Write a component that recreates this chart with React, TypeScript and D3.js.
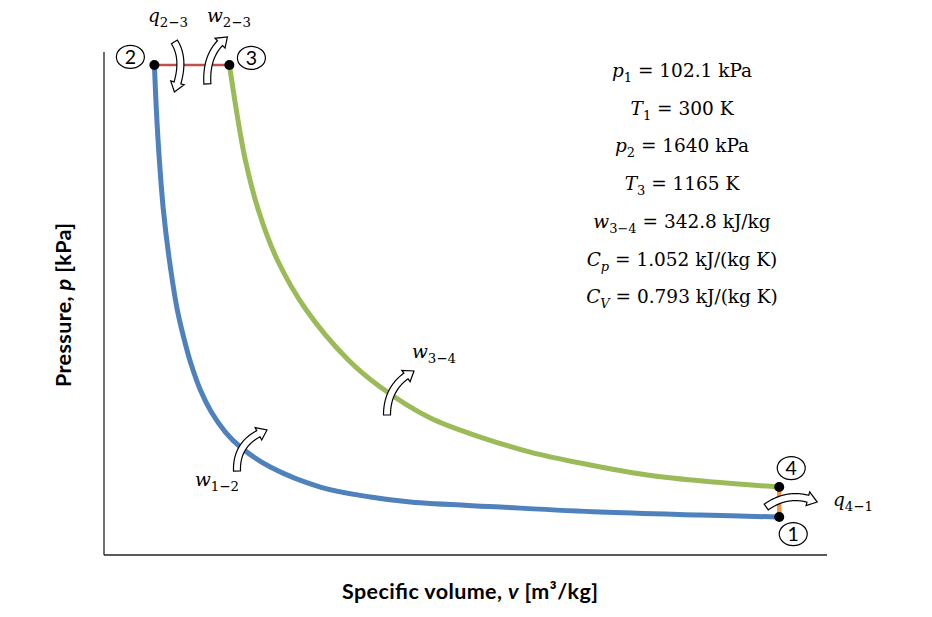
import React from "react";
import * as d3 from "d3";

// ---- Data ----
// Process 1-2 (isentropic compression), v [m3/kg], p [kPa]
const compV = [0.761, 0.6766, 0.5698, 0.4631, 0.367, 0.3244, 0.271, 0.2176, 0.1856, 0.1696, 0.1546, 0.1429, 0.1333, 0.1258, 0.1183, 0.1098, 0.1034, 0.0991, 0.0959, 0.0938];
const compP = [102.1, 108.9, 119.1, 136.1, 153.1, 170.1, 204.1, 272.2, 340.2, 391.3, 459.3, 534.2, 619.2, 704.3, 806.4, 976.5, 1146.6, 1316.8, 1486.9, 1640];
// Process 3-4 (isentropic expansion)
const expV = [0.1739, 0.1813, 0.1909, 0.2048, 0.2251, 0.256, 0.3009, 0.335, 0.3884, 0.4418, 0.4951, 0.5485, 0.62, 0.6905, 0.761];
const expP = [1640, 1486.9, 1316.8, 1146.6, 976.5, 806.4, 636.3, 544.4, 438.9, 374.3, 323.2, 285.8, 245.0, 221.1, 204.1];
// State points 1..4
const stateNames = ["1", "2", "3", "4"];
const stateV = [0.761, 0.0938, 0.1739, 0.761];
const stateP = [102.1, 1640, 1640, 204.1];
// Given values (text block)
const givenSym = ["p", "T", "p", "T", "w", "C", "C"];
const givenSub = ["1", "1", "2", "3", "3\u22124", "p", "V"];
const givenVal = ["102.1 kPa", "300 K", "1640 kPa", "1165 K", "342.8 kJ/kg", "1.052 kJ/(kg K)", "0.793 kJ/(kg K)"];

const W = 932;
const H = 617;
const MATH = "'DejaVu Serif', 'Liberation Serif', serif";
const SANS = "Lato, 'Open Sans', 'DejaVu Sans', sans-serif";

type Pt = [number, number];

function blockArrow(p0: Pt, c: Pt, p1: Pt, bodyW: number, headW: number, headL: number): string {
  const N = 80;
  const pts: Pt[] = [];
  const tans: Pt[] = [];
  for (let i = 0; i <= N; i++) {
    const t = i / N;
    const a = (1 - t) * (1 - t), b = 2 * (1 - t) * t, cc = t * t;
    pts.push([a * p0[0] + b * c[0] + cc * p1[0], a * p0[1] + b * c[1] + cc * p1[1]]);
    const dx = 2 * (1 - t) * (c[0] - p0[0]) + 2 * t * (p1[0] - c[0]);
    const dy = 2 * (1 - t) * (c[1] - p0[1]) + 2 * t * (p1[1] - c[1]);
    const l = Math.hypot(dx, dy) || 1;
    tans.push([dx / l, dy / l]);
  }
  const cum = [0];
  for (let i = 1; i <= N; i++) cum.push(cum[i - 1] + Math.hypot(pts[i][0] - pts[i - 1][0], pts[i][1] - pts[i - 1][1]));
  const total = cum[N];
  let cut = N;
  for (let i = 0; i <= N; i++) { if (cum[i] >= total - headL) { cut = i; break; } }
  const left: Pt[] = [], right: Pt[] = [];
  for (let i = 0; i <= cut; i++) {
    const [tx, ty] = tans[i];
    const nx = -ty, ny = tx;
    left.push([pts[i][0] + nx * bodyW / 2, pts[i][1] + ny * bodyW / 2]);
    right.push([pts[i][0] - nx * bodyW / 2, pts[i][1] - ny * bodyW / 2]);
  }
  const base = pts[cut];
  const [tx, ty] = tans[cut];
  const nx = -ty, ny = tx;
  const hl: Pt = [base[0] + nx * headW / 2, base[1] + ny * headW / 2];
  const hr: Pt = [base[0] - nx * headW / 2, base[1] - ny * headW / 2];
  const f = (p: Pt) => `${p[0].toFixed(2)},${p[1].toFixed(2)}`;
  let d = `M${f(left[0])}`;
  for (let i = 1; i < left.length; i++) d += `L${f(left[i])}`;
  d += `L${f(hl)}L${f(p1)}L${f(hr)}`;
  for (let i = right.length - 1; i >= 0; i--) d += `L${f(right[i])}`;
  return d + "Z";
}

function SubLabel({ x, y, sym, sub, fs = 18.5 }: { x: number; y: number; sym: string; sub: string; fs?: number }) {
  return (
    <text x={x} y={y} fontFamily={MATH} fontSize={fs} fill="#000">
      <tspan fontStyle="italic">{sym}</tspan>
      <tspan fontSize={fs * 0.72} dy={5}>{sub}</tspan>
    </text>
  );
}

export default function App() {
  const x = d3.scaleLinear().domain([0.04, 0.812]).range([104, 827]);
  const y = d3.scaleLinear().domain([-27, 1684]).range([555, 52]);
  const line = d3.line<[number, number]>().x(d => x(d[0])).y(d => y(d[1])).curve(d3.curveCatmullRom.alpha(0.5));

  const comp = compV.map((v, i) => [v, compP[i]] as [number, number]);
  const exp = expV.map((v, i) => [v, expP[i]] as [number, number]);
  const S = stateNames.map((n, i) => ({ n, x: x(stateV[i]), y: y(stateP[i]) }));
  const s1 = S[0], s2 = S[1], s3 = S[2];
  const s4 = S[3];

  const labelOff: Pt[] = [[14, 17], [-24, -8], [22, -7], [12, -19]];

  const arrows: [Pt, Pt, Pt][] = [
    [[s2.x + 20, s2.y - 23], [s2.x + 32, s2.y - 4], [s2.x + 20, s2.y + 27]], // q2-3
    [[s3.x - 22, s3.y + 19], [s3.x - 24, s3.y - 13], [s3.x - 2, s3.y - 28]], // w2-3
    [[237, 471], [236, 441], [267, 430]], // w1-2
    [[387, 415], [387, 385], [414, 371]], // w3-4
    [[s1.x - 13, s1.y - 10], [s1.x + 11, s1.y - 27], [s1.x + 38, s1.y - 15]], // q4-1
  ];

  const gx = 682;
  const gy0 = 77;
  const gdy = 37.7;

  return (
    <svg width={W} height={H} style={{ position: "absolute", left: 0, top: 0, background: "#fff" }}>
      <rect width={W} height={H} fill="#fff" />
      {/* axes */}
      <line x1={x.range()[0]} x2={x.range()[0]} y1={y.range()[1]} y2={y.range()[0]} stroke="#222" strokeWidth={1.3} />
      <line x1={x.range()[0]} x2={x.range()[1]} y1={y.range()[0]} y2={y.range()[0]} stroke="#222" strokeWidth={1.3} />

      {/* processes */}
      <path d={line(exp) || ""} fill="none" stroke="#9bbb59" strokeWidth={5} />
      <path d={line(comp) || ""} fill="none" stroke="#4f81bd" strokeWidth={5} />
      <line x1={s2.x} y1={s2.y} x2={s3.x} y2={s3.y} stroke="#c0504d" strokeWidth={2.5} />
      <line x1={s4.x} y1={s4.y} x2={s1.x} y2={s1.y} stroke="#f79646" strokeWidth={4.5} />

      {/* arrows */}
      {arrows.map((a, i) => (
        <path key={i} d={blockArrow(a[0], a[1], a[2], 7, 14, 10)} fill="#fff" stroke="#000" strokeWidth={1.2} strokeLinejoin="miter" />
      ))}

      {/* state points */}
      {S.map((s, i) => (
        <g key={s.n}>
          <circle cx={s.x} cy={s.y} r={5} fill="#000" />
          <ellipse cx={s.x + labelOff[i][0]} cy={s.y + labelOff[i][1]} rx={14} ry={11.5} fill="none" stroke="#000" strokeWidth={1.2} />
          <text x={s.x + labelOff[i][0]} y={s.y + labelOff[i][1] + 7} textAnchor="middle" fontFamily={SANS} fontSize={19.5} fill="#000">{s.n}</text>
        </g>
      ))}

      {/* process labels */}
      <SubLabel x={148} y={22} sym="q" sub={"2\u22123"} />
      <SubLabel x={207} y={22} sym="w" sub={"2\u22123"} />
      <SubLabel x={195} y={486} sym="w" sub={"1\u22122"} />
      <SubLabel x={412} y={358} sym="w" sub={"3\u22124"} />
      <SubLabel x={833} y={506} sym="q" sub={"4\u22121"} />

      {/* given values */}
      {givenSym.map((sym, i) => (
        <text key={i} x={gx} y={gy0 + i * gdy} textAnchor="middle" fontFamily={MATH} fontSize={18.5} fill="#000">
          <tspan fontStyle="italic">{sym}</tspan>
          <tspan fontSize={13} dy={5} fontStyle={givenSub[i] === "p" || givenSub[i] === "V" ? "italic" : "normal"}>{givenSub[i]}</tspan>
          <tspan dy={-5}>{" = " + givenVal[i]}</tspan>
        </text>
      ))}

      {/* axis titles */}
      <text transform={`translate(71,305) rotate(-90)`} textAnchor="middle" fontFamily={SANS} fontWeight="bold" fontSize={21.5} textLength={164} lengthAdjust="spacing" fill="#000">
        Pressure, <tspan fontStyle="italic">p</tspan> [kPa]
      </text>
      <text x={470} y={599} textAnchor="middle" fontFamily={SANS} fontWeight="bold" fontSize={21.5} textLength={256} lengthAdjust="spacing" fill="#000">
        Specific volume, <tspan fontStyle="italic">v</tspan> [m³/kg]
      </text>
    </svg>
  );
}
